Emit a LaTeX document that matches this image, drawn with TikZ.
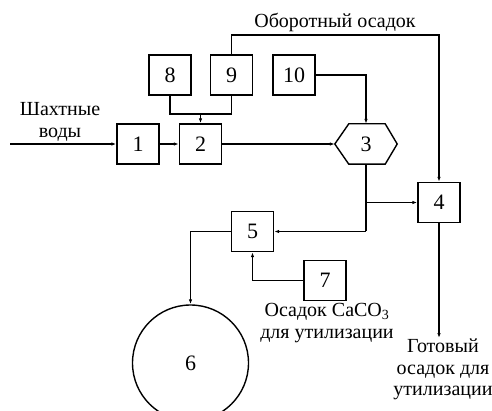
\documentclass[tikz,border=0pt]{standalone}
\usepackage{fontspec}
\setmainfont{Liberation Serif}
\usetikzlibrary{arrows.meta,calc}

\begin{document}
\begin{tikzpicture}[x=1pt,y=-1pt,
    font=\fontsize{20}{21.5}\selectfont,
    unit/.style={draw,line width=1.4pt,minimum width=42pt,minimum height=40pt,inner sep=0pt,
        font=\fontsize{22}{24}\selectfont},
    flow/.style={line width=1.1pt,-{Latex[length=5pt,width=3.5pt]}},
    pipe/.style={line width=1.1pt},
    lbl/.style={align=center,inner sep=0pt}]

\useasboundingbox (0,0) rectangle (492,411);

% Units
\node[unit] (b1) at (138,144) {1};
\node[unit] (b2) at (200.5,144) {2};
\node[unit] (b8) at (170,75) {8};
\node[unit] (b9) at (231.5,75) {9};
\node[unit] (b10) at (294,75) {10};
\node[unit] (b4) at (439,202.5) {4};
\node[unit] (b5) at (252.5,231.5) {5};
\node[unit] (b7) at (325,280.5) {7};

% Hexagon 3
\node[minimum width=62pt,minimum height=40pt,inner sep=0pt,font=\fontsize{22}{24}\selectfont] (b3) at (366,144) {3};
\draw[line width=1.4pt] (b3.west) -- ([xshift=14pt]b3.north west) -- ([xshift=-12pt]b3.north east)
    -- (b3.east) -- ([xshift=-12pt]b3.south east) -- ([xshift=14pt]b3.south west) -- cycle;

% Tank 6
\node[draw,circle,line width=1.4pt,minimum size=116pt,inner sep=0pt,font=\fontsize{22}{24}\selectfont] (c6) at (190.5,363) {6};

% Labels
\node[lbl] (lin) at (60,122) {Шахтные\\воды};
\node[lbl] (lrec) at (335,22) {Оборотный осадок};
\node[lbl] (lca) at (327,323) {Осадок CaCO\textsubscript{3}\\для утилизации};
\node[lbl,anchor=north] (lout) at (443,339) {Готовый\\осадок для\\утилизации};

% Mine water in
\coordinate (in) at (10,144);
\draw[flow] (in) -- (b1);
\draw[flow] (b1) -- (b2);
\draw[flow] (b2) -- (b3.west);

% Reagents 8, 9
\coordinate (m89) at (b2.north |- 0,114);
\draw[pipe] (b8.south) |- (m89);
\draw[pipe] (b9.south) |- (m89);
\draw[flow] (m89) -- (b2.north);

% Reagent 10
\draw[flow] (b10.east) -| (b3.north);

% Recycled sludge
\coordinate (rec) at (b9.north |- 0,35);
\draw[flow] (b9.north) -- (rec) -| (b4.north);

% From 3 to 4 and 5
\coordinate (s3) at (b3.south |- b5.east);
\draw[pipe] (b3.south) -- (s3);
\draw[flow] (s3) -- (b5.east);
\draw[flow] (b3.south |- b4.west) -- (b4.west);

% 5 to tank, 7 to 5
\draw[flow] (b5.west) -| (c6.north);
\draw[flow] (b7.west) -| (b5.south);

% Product out
\coordinate (out4) at (b4.south |- 0,338);
\draw[flow] (b4.south) -- (out4);

\end{tikzpicture}
\end{document}
